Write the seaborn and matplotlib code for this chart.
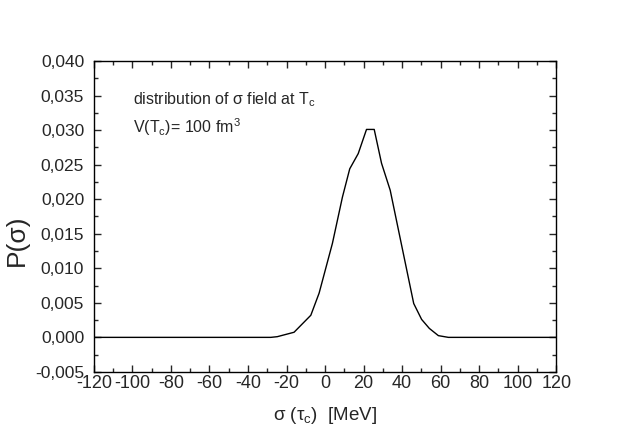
import numpy as np
import pandas as pd
import matplotlib
matplotlib.use("Agg")
import matplotlib.pyplot as plt
import seaborn as sns
from matplotlib.ticker import MultipleLocator

# valorile
sigma = [-120, -28.2, -24.8, -16.1, -7.4, -3.1, 3.8, 9.0, 12.8, 17.2, 21.5, 25.5,
         29.3, 33.8, 46.0, 50.1, 54.1, 58.8, 64.0, 120]
prob = [0.0, 0.0, 0.0001, 0.00074, 0.0032, 0.0064, 0.0136, 0.0203, 0.0244, 0.0266,
        0.0301, 0.0301, 0.0252, 0.0213, 0.0049, 0.0026, 0.0013, 0.00025, 0.0, 0.0]

xticks = [-120, -100, -80, -60, -40, -20, 0, 20, 40, 60, 80, 100, 120]
xticklabels = ["-120", "-100", "-80", "-60", "-40", "-20", "0", "20", "40", "60", "80", "100", "120"]
yticks = [-0.005, 0.0, 0.005, 0.010, 0.015, 0.020, 0.025, 0.030, 0.035, 0.040]
yticklabels = ["-0,005", "0,000", "0,005", "0,010", "0,015", "0,020", "0,025", "0,030", "0,035", "0,040"]

df = pd.DataFrame({"sigma": sigma, "P": prob})

sns.set_style("ticks")
plt.rcParams["font.family"] = ["Liberation Sans", "DejaVu Sans"]
plt.rcParams["mathtext.fontset"] = "custom"
plt.rcParams["mathtext.rm"] = "Liberation Sans"
plt.rcParams["mathtext.it"] = "Liberation Sans"

fig = plt.figure(figsize=(6.3, 4.36), dpi=100)
ax = fig.add_axes([0.149, 0.147, 0.734, 0.713])

sns.lineplot(data=df, x="sigma", y="P", sort=False, color="black", linewidth=1.0, ax=ax)

ax.set_xlim(-120, 120)
ax.set_ylim(-0.005, 0.040)
ax.set_xticks(xticks)
ax.set_xticklabels(xticklabels, fontsize=13)
ax.set_yticks(yticks)
ax.set_yticklabels(yticklabels, fontsize=12.5)
ax.xaxis.set_minor_locator(MultipleLocator(10))
ax.yaxis.set_minor_locator(MultipleLocator(0.0025))
ax.tick_params(which="both", direction="in", top=True, right=True, width=1.0)
ax.tick_params(which="major", length=5)
ax.tick_params(which="minor", length=3)
ax.tick_params(axis="y", which="major", pad=7)
ax.tick_params(axis="x", which="major", pad=2)
for s in ax.spines.values():
    s.set_linewidth(1.0)
    s.set_color("black")

ax.set_xlabel(r"σ (τ$_{\rm c}$)  [MeV]", fontsize=13.5)
ax.set_ylabel("P(σ)", fontsize=19)
ax.xaxis.set_label_coords(0.5, -0.105)
ax.yaxis.set_label_coords(-0.141, 0.424)

ax.text(-99.5, 0.0338, r"distribution of σ field at T$_{\rm c}$", fontsize=11.5, va="baseline")
ax.text(-99.5, 0.0296, r"V(T$_{\rm c}$)= 100 fm$^{3}$", fontsize=11.5, va="baseline")

fig.savefig("out.png", dpi=100)
